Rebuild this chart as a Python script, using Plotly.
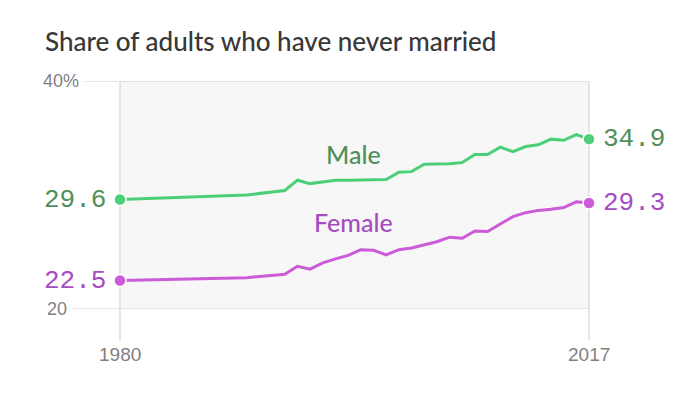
import plotly.graph_objects as go

years = [1980, 1990, 1993, 1994, 1995, 1996, 1997, 1998, 1999, 2000, 2001, 2002, 2003,
         2004, 2005, 2006, 2007, 2008, 2009, 2010, 2011, 2012, 2013, 2014, 2015, 2016, 2017]
male = [29.6, 30.0, 30.4, 31.3, 31.0, 31.15, 31.3, 31.3, 31.3, 31.3, 31.35, 32.0, 32.05,
        32.7, 32.7, 32.75, 32.85, 33.55, 33.55, 34.2, 33.8, 34.25, 34.4, 34.9, 34.8, 35.3, 34.9]
female = [22.5, 22.75, 23.05, 23.75, 23.5, 24.05, 24.4, 24.7, 25.2, 25.15, 24.75, 25.2, 25.35,
          25.6, 25.9, 26.3, 26.2, 26.85, 26.8, 27.45, 28.1, 28.45, 28.65, 28.75, 28.9, 29.4, 29.3]
y_ticks = [20, 40]
y_ticktext = ["20", "40%"]
x_ticks = [1980, 2017]
title = "Share of adults who have never married"

MALE_LINE, MALE_TEXT = "#4ccf78", "#4f8f5a"
FEM_LINE, FEM_TEXT = "#cb5bd7", "#a64cc2"
GRID = "#dcdcdc"

OFF = 8  # page body margin
W, H = 700, 408
PL, PT, PW, PH = 120, 81, 469, 228  # target plot box in screen pixels
ML, MT = PL - OFF, PT - OFF
MR, MB = W - ML - PW, H - MT - PH

def px_x(p):
    return (p - PL) / PW

def px_y(p):
    return (PT + PH - p) / PH

fig = go.Figure()

for vals, lc in [(male, MALE_LINE), (female, FEM_LINE)]:
    fig.add_trace(go.Scatter(x=years, y=vals, mode="lines", line=dict(color=lc, width=3),
                             cliponaxis=False, hoverinfo="skip", showlegend=False))
    fig.add_trace(go.Scatter(x=[years[0], years[-1]], y=[vals[0], vals[-1]], mode="markers",
                             marker=dict(color=lc, size=12, line=dict(color="white", width=1.5)),
                             cliponaxis=False, hoverinfo="skip", showlegend=False))

shapes = []
shapes.append(dict(type="line", xref="paper", yref="y", x0=px_x(84), x1=1, y0=40, y1=40,
                   line=dict(color=GRID, width=1.5), layer="below"))
shapes.append(dict(type="line", xref="paper", yref="y", x0=px_x(73), x1=1, y0=20, y1=20,
                   line=dict(color=GRID, width=1.5), layer="below"))
for xp in [0, 1]:
    shapes.append(dict(type="line", xref="paper", yref="paper", x0=xp, x1=xp, y0=1, y1=px_y(340),
                       line=dict(color=GRID, width=1.5), layer="below"))

annotations = []
annotations.append(dict(text=title, xref="paper", yref="paper", x=px_x(43), y=px_y(41),
                        xanchor="left", yanchor="middle", showarrow=False,
                        font=dict(family="Lato", size=26, color="#383838", weight=500)))
for v, t, right in [(y_ticks[0], y_ticktext[0], 69), (y_ticks[1], y_ticktext[1], 81)]:
    annotations.append(dict(text=t, xref="paper", yref="y", x=px_x(right), y=v,
                            xanchor="right", yanchor="middle", showarrow=False,
                            font=dict(family="Liberation Sans", size=18, color="#7f7f7f")))
for xv in x_ticks:
    annotations.append(dict(text=str(xv), xref="x", yref="paper", x=xv, y=px_y(354),
                            xanchor="center", yanchor="middle", showarrow=False,
                            font=dict(family="Liberation Sans", size=19, color="#7f7f7f")))
for vals, tc in [(male, MALE_TEXT), (female, FEM_TEXT)]:
    annotations.append(dict(text=f"{vals[0]:.1f}", x=years[0], y=vals[0], xanchor="right",
                            yanchor="middle", xshift=-12, showarrow=False,
                            font=dict(family="Liberation Mono", size=26, color=tc)))
    annotations.append(dict(text=f"{vals[-1]:.1f}", x=years[-1], y=vals[-1], xanchor="left",
                            yanchor="middle", xshift=12, showarrow=False,
                            font=dict(family="Liberation Mono", size=26, color=tc)))
annotations.append(dict(text="Male", x=1998.46, y=33.6, xanchor="center", yanchor="middle",
                        showarrow=False, font=dict(family="Lato", size=25, color=MALE_TEXT, weight=500)))
annotations.append(dict(text="Female", x=1998.46, y=27.63, xanchor="center", yanchor="middle",
                        showarrow=False, font=dict(family="Lato", size=25, color=FEM_TEXT, weight=500)))

fig.update_layout(
    width=W, height=H,
    margin=dict(l=ML, r=MR, t=MT, b=MB),
    paper_bgcolor="white", plot_bgcolor="#f7f7f7",
    xaxis=dict(range=[1980, 2017], showgrid=False, zeroline=False, showticklabels=False,
               ticks="", showline=False, fixedrange=True),
    yaxis=dict(range=[20, 40], showgrid=False, zeroline=False, showticklabels=False,
               ticks="", showline=False, fixedrange=True),
    shapes=shapes, annotations=annotations, showlegend=False,
)

fig.write_html("out.html", config={"displayModeBar": False})
